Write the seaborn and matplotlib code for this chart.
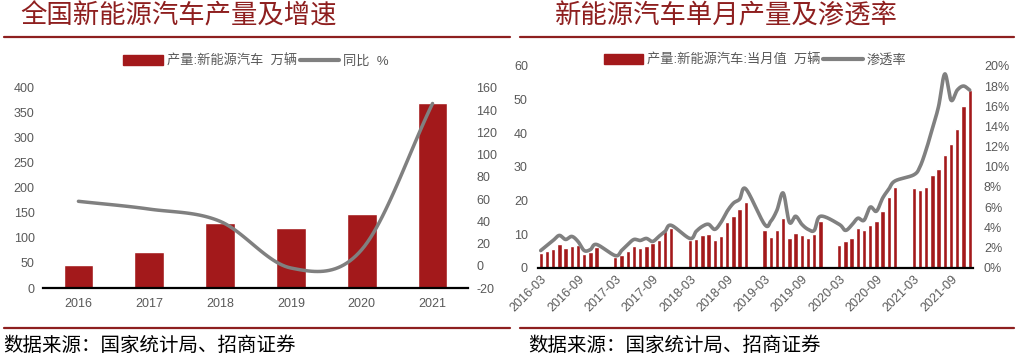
import numpy as np
import pandas as pd
import seaborn as sns
import matplotlib.pyplot as plt
from matplotlib.patches import Patch
from matplotlib.lines import Line2D
from matplotlib.ticker import FuncFormatter

# ---- left chart: yearly output and growth
years = ['2016', '2017', '2018', '2019', '2020', '2021']
output = [46, 72.5, 130.7, 120, 147, 370]
growth = [58, 51, 40, -2, 14.5, 146]

# ---- right chart: monthly output (Mar-Dec each year, Jan/Feb not reported) and penetration %
prod_2016 = [4.4, 5.0, 5.7, 6.9, 5.8, 6.4, 6.7, 4.2, 4.6, 6.1]
prod_2017 = [3.3, 3.8, 5.0, 6.4, 5.8, 6.4, 7.4, 8.2, 10.8, 11.8]
prod_2018 = [8.2, 8.4, 9.7, 10.0, 8.2, 9.3, 13.5, 15.4, 17.5, 19.6]
prod_2019 = [11.2, 9.2, 11.2, 14.7, 8.7, 10.3, 9.7, 8.8, 9.9, 13.9]
prod_2020 = [6.7, 8.0, 8.8, 11.7, 11.2, 12.8, 14.0, 16.8, 21.0, 24.1]
prod_2021 = [23.6, 23.2, 24.1, 27.7, 29.4, 33.4, 36.7, 41.2, 48.1, 52.7]

pen_2016 = [1.7, 2.2, 2.7, 3.2, 2.8, 3.1, 2.6, 1.7, 1.8, 2.3]
pen_2017 = [1.2, 1.7, 2.3, 2.8, 2.7, 2.9, 2.6, 3.1, 3.6, 4.2]
pen_2018 = [2.9, 3.6, 4.1, 4.3, 3.8, 4.5, 5.6, 6.4, 6.8, 7.8]
pen_2019 = [4.3, 4.6, 5.7, 7.4, 4.5, 5.1, 4.3, 3.8, 3.7, 5.1]
pen_2020 = [4.3, 3.7, 4.2, 4.9, 4.7, 6.0, 5.6, 6.9, 7.8, 8.6]
pen_2021 = [9.2, 10.0, 11.7, 13.8, 16.0, 19.2, 16.6, 17.6, 18.0, 17.6]

prod_by_year = {2016: prod_2016, 2017: prod_2017, 2018: prod_2018,
                2019: prod_2019, 2020: prod_2020, 2021: prod_2021}
pen_by_year = {2016: pen_2016, 2017: pen_2017, 2018: pen_2018,
               2019: pen_2019, 2020: pen_2020, 2021: pen_2021}

RED = '#A3191B'
DARKRED = '#8E1F1F'
GRAY = '#808080'
TXT = '#595959'


def smooth(x, y, n=24):
    # catmull-rom curve through the points (like excel's smoothed line)
    P = np.column_stack([np.asarray(x, float), np.asarray(y, float)])
    P = np.vstack([2 * P[0] - P[1], P, 2 * P[-1] - P[-2]])
    t = np.linspace(0, 1, n, endpoint=False)[:, None]
    out = []
    for i in range(1, len(P) - 2):
        p0, p1, p2, p3 = P[i - 1], P[i], P[i + 1], P[i + 2]
        out.append(0.5 * (2 * p1 + (p2 - p0) * t + (2 * p0 - 5 * p1 + 4 * p2 - p3) * t ** 2
                          + (3 * p1 - p0 - 3 * p2 + p3) * t ** 3))
    out.append(P[-2][None])
    c = np.vstack(out)
    return c[:, 0], c[:, 1]


sns.set_style('white')
plt.rcParams['font.family'] = ['Liberation Sans', 'Noto Sans CJK SC']
plt.rcParams['axes.unicode_minus'] = False

fig = plt.figure(figsize=(10.24, 3.56), dpi=100)

# ================= left chart
ax1 = fig.add_axes([0.042, 0.191, 0.415, 0.562])
sns.barplot(x=years, y=output, color=RED, saturation=1, width=0.42, ax=ax1)
ax1.set_ylim(0, 400)
ax1.set_yticks(range(0, 401, 50))
ax1b = ax1.twinx()
sx, sy = smooth(range(len(years)), growth)
sns.lineplot(x=sx, y=sy, sort=False, color=GRAY, lw=2.5, ax=ax1b)
ax1b.set_ylim(-20, 160)
ax1b.set_yticks(range(-20, 161, 20))
ax1.set_xlim(-0.5, 5.5)

ax1.set_xticks(np.arange(-0.5, 6), minor=True)
ax1.tick_params(axis='x', which='major', length=0, pad=7, labelsize=9, labelcolor=TXT)
ax1.tick_params(axis='x', which='minor', length=4, direction='in', color='#404040')
ax1.tick_params(axis='y', length=0, pad=6, labelsize=9, labelcolor=TXT)
ax1b.tick_params(axis='y', length=0, pad=6, labelsize=9, labelcolor=TXT)

ax1b.legend(handles=[Patch(color=RED, label='产量:新能源汽车  万辆'),
                     Line2D([], [], color=GRAY, lw=3, label='同比  %')],
            loc='center', bbox_to_anchor=(256 / 1024, 1 - 61 / 356), bbox_transform=fig.transFigure,
            ncol=2, frameon=False, fontsize=9.5, handlelength=3.0, handleheight=0.9,
            handletextpad=0.3, columnspacing=0.2, labelcolor=TXT)

# ================= right chart
months = pd.period_range('2016-03', '2021-12', freq='M')
labels = list(months.strftime('%Y-%m'))
vals, pens = [], []
for m in months:
    if m.month < 3:
        vals.append(np.nan)
        pens.append(np.nan)
    else:
        vals.append(prod_by_year[m.year][m.month - 3])
        pens.append(pen_by_year[m.year][m.month - 3])
df = pd.DataFrame({'month': labels, 'prod': vals, 'pen': pens, 'pos': np.arange(len(labels))})

ax2 = fig.add_axes([0.525, 0.248, 0.425, 0.567])
sns.barplot(data=df.dropna(), x='month', y='prod', order=labels, color=RED, saturation=1,
            width=0.7, ax=ax2)
ax2.set_ylim(0, 60)
ax2.set_yticks(range(0, 61, 10))
ax2b = ax2.twinx()
ok = df.dropna()
mx, my = smooth(ok['pos'], ok['pen'])
sns.lineplot(x=mx, y=my, sort=False, color=GRAY, lw=2.6, ax=ax2b)
ax2b.set_ylim(0, 20)
ax2b.set_yticks(range(0, 21, 2))
ax2b.yaxis.set_major_formatter(FuncFormatter(lambda v, p: f'{v:.0f}%'))
ax2.set_xlim(-0.5, len(labels) - 0.5)

ax2.set_xticks(range(0, len(labels), 6))
ax2.set_xticklabels(labels[::6], rotation=45, ha='right', rotation_mode='anchor')
ax2.set_xticks(np.arange(-0.5, len(labels), 6), minor=True)
ax2.tick_params(axis='x', which='major', length=0, pad=4, labelsize=9, labelcolor=TXT)
ax2.tick_params(axis='x', which='minor', length=3, direction='in', color='#404040')
ax2.tick_params(axis='y', length=0, pad=7, labelsize=9, labelcolor=TXT)
ax2b.tick_params(axis='y', length=0, pad=8, labelsize=9, labelcolor=TXT)
ax2.set_xlabel('')

ax2b.legend(handles=[Patch(color=RED, label='产量:新能源汽车:当月值  万辆'),
                     Line2D([], [], color=GRAY, lw=3, label='渗透率')],
            loc='center', bbox_to_anchor=(755 / 1024, 1 - 60 / 356), bbox_transform=fig.transFigure,
            ncol=2, frameon=False, fontsize=9.5, handlelength=3.0, handleheight=0.9,
            handletextpad=0.3, columnspacing=0.2, labelcolor=TXT)

for a in (ax1, ax1b, ax2, ax2b):
    for s in ('left', 'right', 'top'):
        a.spines[s].set_visible(False)
    a.set_ylabel('')
for a in (ax1, ax2):
    a.spines['bottom'].set_color('black')
    a.spines['bottom'].set_linewidth(1.6)
ax1b.spines['bottom'].set_visible(False)
ax2b.spines['bottom'].set_visible(False)

# ================= titles, rules and source notes
fig.text(20 / 1024, 1 - 16 / 356, '全国新能源汽车产量及增速', fontsize=19, color=DARKRED, va='center')
fig.text(555 / 1024, 1 - 16 / 356, '新能源汽车单月产量及渗透率', fontsize=19, color=DARKRED, va='center')
for x0, x1 in ((0.004, 0.498), (0.508, 0.99)):
    fig.add_artist(Line2D([x0, x1], [1 - 37 / 356] * 2, color=DARKRED, lw=1.6, transform=fig.transFigure))
    fig.add_artist(Line2D([x0, x1], [1 - 328 / 356] * 2, color=DARKRED, lw=1.6, transform=fig.transFigure))
fig.text(3 / 1024, 1 - 346 / 356, '数据来源：国家统计局、招商证券', fontsize=14, color='black', va='center')
fig.text(528 / 1024, 1 - 346 / 356, '数据来源：国家统计局、招商证券', fontsize=14, color='black', va='center')

fig.savefig('out.png', dpi=100)
